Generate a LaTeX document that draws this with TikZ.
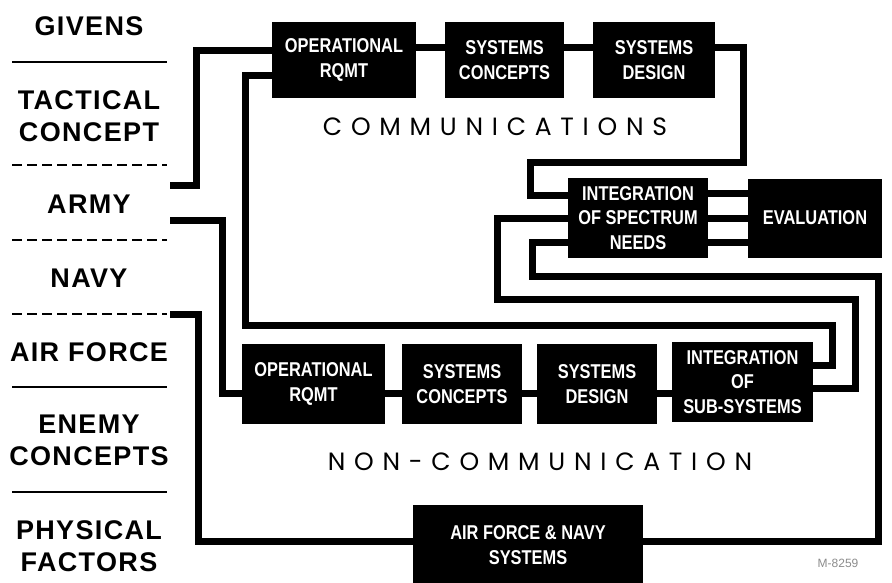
\documentclass[tikz,border=0pt]{standalone}
\usepackage{fontspec}
\setmainfont{Liberation Sans}
\newfontfamily\boxfont[FakeStretch=0.82]{Liberation Sans}
\newfontfamily\labelfont[LetterSpace=5]{Liberation Sans}
\newfontfamily\capfont[LetterSpace=35]{Poppins}
\usepackage{tikz}

\begin{document}
\begin{tikzpicture}[
		x=1pt, y=-1pt,
		box/.style={
			fill=black,
			text=white,
			font=\boxfont\bfseries\fontsize{20}{24.5}\selectfont,
			align=center,
			inner sep=0pt
		},
		givenlabel/.style={
			font=\labelfont\bfseries\fontsize{27}{32}\selectfont,
			align=center,
			inner sep=0pt
		},
		caption/.style={
			font=\capfont\fontsize{25}{28}\selectfont,
			inner sep=0pt
		},
		sepline/.style={
			line width=2.5pt,
			draw=black
		},
		sepdash/.style={
			line width=2.5pt,
			draw=black,
			dash pattern=on 10pt off 5pt
		},
		wire/.style={
			line width=7pt,
			draw=black
		}
	]
	
	\useasboundingbox (0,0) rectangle (892,582);
	\fill[white] (0,0) rectangle (892,582);
	
	% Givens column
	\node[givenlabel] (givens) at (89,26) {GIVENS};
	\node[givenlabel] (tactical) at (89,116) {TACTICAL\\CONCEPT};
	\node[givenlabel] (army) at (89,204) {ARMY};
	\node[givenlabel] (navy) at (89,278) {NAVY};
	\node[givenlabel] (airforce) at (89,352) {AIR FORCE};
	\node[givenlabel] (enemy) at (89,440) {ENEMY\\CONCEPTS};
	\node[givenlabel] (physical) at (89,546) {PHYSICAL\\FACTORS};
	
	\foreach \y in {62,387,492}
		\draw[sepline] (12,\y) -- (167,\y);
	\foreach \y in {165,240,314}
		\draw[sepdash] (12,\y) -- (167,\y);
	
	\coordinate (tacin) at (170,185);
	\coordinate (armyin) at (170,220);
	\coordinate (afin) at (170,314);
	
	% Communications row
	\node[box, minimum width=144pt, minimum height=76pt] (copr) at (344,60) {OPERATIONAL\\RQMT};
	\node[box, minimum width=119pt, minimum height=76pt] (cconc) at (504.5,60) {SYSTEMS\\CONCEPTS};
	\node[box, minimum width=122pt, minimum height=76pt] (cdes) at (654,60) {SYSTEMS\\DESIGN};
	\node[caption] (comm) at (495,127) {COMMUNICATIONS};
	
	% Spectrum and evaluation
	\node[box, minimum width=140pt, minimum height=80pt] (spec) at (638,218) {INTEGRATION\\OF SPECTRUM\\NEEDS};
	\node[box, minimum width=134pt, minimum height=79pt] (eval) at (815,218) {EVALUATION};
	
	% Non-communication row
	\node[box, minimum width=143pt, minimum height=80pt] (nopr) at (313.5,384) {OPERATIONAL\\RQMT};
	\node[box, minimum width=120pt, minimum height=80pt] (nconc) at (462,384) {SYSTEMS\\CONCEPTS};
	\node[box, minimum width=120pt, minimum height=80pt] (ndes) at (597,384) {SYSTEMS\\DESIGN};
	\node[box, minimum width=141pt, minimum height=80pt] (nsub) at (742.5,382) {INTEGRATION\\OF\\SUB-SYSTEMS};
	\node[caption] (noncomm) at (540,462) {NON-COMMUNICATION};
	
	% Air Force and Navy systems
	\node[box, minimum width=230pt, minimum height=80pt] (afn) at (528,545) {AIR FORCE \& NAVY\\SYSTEMS};
	\node[font=\fontsize{12}{12}\selectfont, text=black!45, inner sep=0pt] (mark) at (838,563) {M-8259};
	
	\coordinate (crail) at (0,47);
	\coordinate (nrail) at (0,393);
	
	% Connectors along the rows
	\draw[wire] (copr.east |- crail) -- (cconc.west |- crail);
	\draw[wire] (cconc.east |- crail) -- (cdes.west |- crail);
	\draw[wire] (nopr.east |- nrail) -- (nconc.west |- nrail);
	\draw[wire] (nconc.east |- nrail) -- (ndes.west |- nrail);
	\draw[wire] (ndes.east |- nrail) -- (nsub.west |- nrail);
	\foreach \y in {193,218,242}
		\draw[wire] (spec.east |- 0,\y) -- (eval.west |- 0,\y);
	
	% Routed connectors
	\draw[wire] (tacin) -| (196,50) -- (copr.west |- 0,50);
	\draw[wire] (copr.west |- 0,75) -| (245,325) -| (832,365) -- (nsub.east |- 0,365);
	\draw[wire] (cdes.east |- crail) -| (743,162) -| (530,195) -- (spec.west |- 0,195);
	\draw[wire] (spec.west |- 0,218) -| (497,299) -| (855,388) -- (nsub.east |- 0,388);
	\draw[wire] (spec.west |- 0,242) -| (532,276) -| (878,541) -- (afn.east |- 0,541);
	\draw[wire] (afn.west |- 0,541) -| (198,314) -- (afin);
	\draw[wire] (armyin) -| (222,393) -- (nopr.west |- nrail);
	
\end{tikzpicture}
\end{document}
